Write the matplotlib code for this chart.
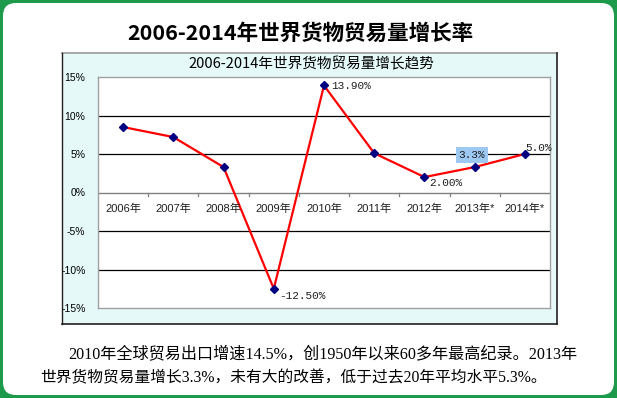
import matplotlib
matplotlib.use("Agg")
import matplotlib.pyplot as plt
from matplotlib.patches import FancyBboxPatch, Rectangle

plt.rcParams['font.family'] = ['Noto Sans CJK SC', 'DejaVu Sans']

# ---- data ----
categories = ["2006年", "2007年", "2008年", "2009年", "2010年", "2011年", "2012年", "2013年*", "2014年*"]
growth = [8.5, 7.2, 3.3, -12.5, 13.9, 5.1, 2.0, 3.3, 5.0]
yticks = [-15, -10, -5, 0, 5, 10, 15]
ytick_labels = ["-15%", "-10%", "-5%", "0%", "5%", "10%", "15%"]
point_labels = {3: "-12.50%", 4: "13.90%", 6: "2.00%", 7: "3.3%", 8: "5.0%"}
main_title = "2006-2014年世界货物贸易量增长率"
chart_title = "2006-2014年世界货物贸易量增长趋势"
body_lines = ["2010年全球贸易出口增速14.5%，创1950年以来60多年最高纪录。2013年",
              "世界货物贸易量增长3.3%，未有大的改善，低于过去20年平均水平5.3%。"]

W, H = 617, 398
fig = plt.figure(figsize=(W / 100, H / 100), dpi=100, facecolor="#1E9A4C")

# background canvas in pixel coordinates
bg = fig.add_axes([0, 0, 1, 1])
bg.set_xlim(0, W)
bg.set_ylim(H, 0)
bg.axis("off")

bg.add_patch(FancyBboxPatch((3, 3), W - 6, H - 6,
                            boxstyle="round,pad=0,rounding_size=13",
                            facecolor="white", edgecolor="none"))

# chart box
bg.add_patch(Rectangle((62, 53), 495, 271, facecolor="#E5F9F9", edgecolor="none"))
bg.plot([62, 557], [53, 53], color="#9A9A9A", lw=1.2)
bg.plot([62, 62], [53, 324], color="#202020", lw=1.0)
bg.plot([557, 557], [53, 324], color="#202020", lw=1.2)
bg.plot([62, 557], [324, 324], color="#202020", lw=1.2)

bg.text(300, 33, main_title, ha="center", va="center", fontsize=15.5,
        fontweight="bold", color="black")
bg.text(311, 64, chart_title, ha="center", va="center", fontsize=10.5, color="black")

body_font = ['Liberation Serif', 'Noto Sans CJK SC']
bg.text(68, 355, body_lines[0], ha="left", va="center", fontsize=11.6,
        family=body_font, color="black")
bg.text(40, 378, body_lines[1], ha="left", va="center", fontsize=11.3,
        family=body_font, color="black")

# plot axes
ax = fig.add_axes([98 / W, 1 - 308 / H, 452 / W, 231 / H])
ax.set_facecolor("white")
x = list(range(len(categories)))
ax.set_xlim(-0.5, len(categories) - 0.5)
ax.set_ylim(-15, 15)

for v in [-10, -5, 5, 10]:
    ax.axhline(v, color="black", lw=0.9, zorder=1)
ax.axhline(0, color="#808080", lw=1.0, zorder=1)
for b in range(1, len(categories)):
    ax.plot([b - 0.5, b - 0.5], [0, -0.45], color="#808080", lw=0.9, zorder=1)

for s in ax.spines.values():
    s.set_color("#A0A0A0")
    s.set_linewidth(1.0)

ax.set_xticks([])
ax.set_yticks(yticks)
ax.set_yticklabels(ytick_labels, family=['Liberation Sans', 'Noto Sans CJK SC'],
                   fontsize=7.5)
ax.tick_params(axis="y", length=0, pad=9)

ax.plot(x, growth, color="#FF0000", lw=1.6, zorder=3,
        marker="D", markersize=3.8, markerfacecolor="#000080",
        markeredgecolor="#000080")

for i, lab in enumerate(categories):
    ax.text(i, -2.1, lab, ha="center", va="center", fontsize=8,
            family=['Liberation Sans', 'Noto Sans CJK SC'], color="#202020")

label_font = ['Liberation Mono', 'DejaVu Sans Mono']
offsets = {3: (5, -7, "left"), 4: (7, -1, "left"), 6: (5, -6, "left"),
           7: (-3, 12, "center"), 8: (0, 6, "left")}
for i, txt in point_labels.items():
    dx, dy, ha = offsets[i]
    kw = {}
    if i == 7:
        kw["bbox"] = dict(boxstyle="square,pad=0.25", facecolor="#9CC8F2",
                          edgecolor="none")
    ax.annotate(txt, (x[i], growth[i]), xytext=(dx, dy),
                textcoords="offset pixels", ha=ha, va="center",
                fontsize=8, family=label_font, color="#202020", zorder=4, **kw)

fig.savefig("out.png", dpi=100, facecolor=fig.get_facecolor())
